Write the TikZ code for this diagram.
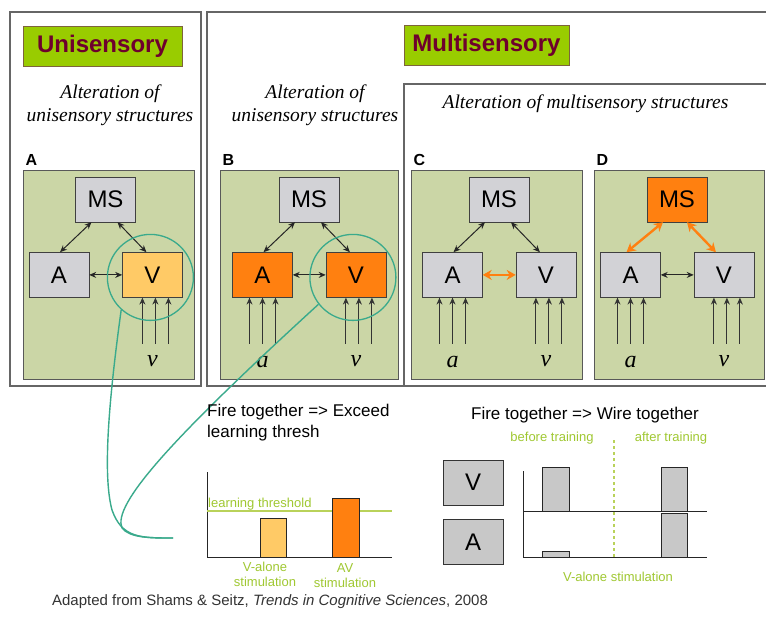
\documentclass[tikz,border=0pt]{standalone}
\usepackage{fontspec}
\setmainfont{Liberation Serif}
\setsansfont{Liberation Sans}
\usetikzlibrary{arrows.meta,calc,positioning}

\definecolor{panelgreen}{RGB}{203,214,166}
\definecolor{unitgrey}{RGB}{210,210,214}
\definecolor{bargrey}{RGB}{200,200,200}
\definecolor{hotorange}{RGB}{255,128,16}
\definecolor{paleorange}{RGB}{255,202,102}
\definecolor{headgreen}{RGB}{153,204,0}
\definecolor{headred}{RGB}{110,0,45}
\definecolor{headedge}{RGB}{125,100,60}
\definecolor{loopteal}{RGB}{58,170,140}
\definecolor{threshgreen}{RGB}{185,210,90}
\definecolor{notegreen}{RGB}{160,200,50}

\tikzset{
  shell/.style={draw=black!60,line width=1.3pt},
  banner/.style={draw=headedge,fill=headgreen,text=headred,line width=1pt,inner sep=0pt,
    minimum height=40pt,font=\sffamily\bfseries\fontsize{24}{24}\selectfont},
  note/.style={align=center,font=\itshape\fontsize{19.5}{23}\selectfont},
  panel/.style={draw=black!65,fill=panelgreen,line width=1pt,minimum height=209pt},
  letter/.style={inner sep=0pt,font=\sffamily\bfseries\fontsize{16}{16}\selectfont},
  unit/.style={draw=black!75,fill=unitgrey,minimum width=60pt,minimum height=45pt,
    inner sep=0pt,font=\sffamily\fontsize{24}{24}\selectfont},
  link/.style={<->,line width=1pt,draw=black!85},
  hotlink/.style={{Stealth[length=9pt,width=10pt]}-{Stealth[length=9pt,width=10pt]},
    line width=2.4pt,draw=hotorange},
  feed/.style={<-,line width=1pt,draw=black!80},
  sig/.style={inner sep=0pt,font=\itshape\fontsize{24}{24}\selectfont},
  loupe/.style={circle,draw=loopteal,line width=1.3pt,minimum size=86pt},
  strand/.style={draw=loopteal,line width=1.4pt},
  headline/.style={inner sep=0pt,font=\sffamily\fontsize{17}{21}\selectfont},
  cue/.style={inner sep=0pt,text=notegreen,align=center,font=\sffamily\fontsize{13}{15}\selectfont},
  chartline/.style={draw=black!85,line width=1pt},
  barbox/.style={draw=black!85,line width=1pt}
}

\begin{document}
\begin{tikzpicture}[x=1pt,y=-1pt,>={Stealth[length=7pt,width=6pt]}]
  \useasboundingbox (0,0) rectangle (766,624);
  \fill[white] (0,0) rectangle (766,624);

  % frames
  \draw[shell] (10,12) rectangle (201,386);
  \draw[shell] (207,12) rectangle (775,386);
  \draw[shell] (404,84) rectangle (775,386);

  \node[banner,minimum width=159pt] (uni) at (102.5,46) {Unisensory};
  \node[banner,minimum width=165pt] (multi) at (486.5,45.5) {Multisensory};
  \node[note] (altA) at (110,105) {Alteration of\\unisensory structures};
  \node[note] (altB) at (315,105) {Alteration of\\unisensory structures};
  \node[note] (altC) at (585.5,104) {Alteration of multisensory structures};

  % the four panels
  \foreach \p/\cx/\w/\mx/\msc/\ac/\vc in {A/108.5/171/105.5/unitgrey/unitgrey/paleorange,
      B/309/178/309/unitgrey/hotorange/hotorange, C/496.5/171/499/unitgrey/unitgrey/unitgrey,
      D/679/170/677/hotorange/unitgrey/unitgrey}{
    \node[panel,minimum width=\w pt] (pane\p) at (\cx,274.5) {};
    \node[letter,above right=4pt and 3pt of pane\p.north west] (tag\p) {\p};
    \node[unit,fill=\msc] (ms\p) at (\mx,199.5) {MS};
    \node[unit,fill=\ac,below=30pt of ms\p,xshift=-46.5pt] (a\p) {A};
    \node[unit,fill=\vc,right=33pt of a\p] (v\p) {V};
    \foreach \dx in {-10,3,16}
      \draw[feed] ([xshift=\dx pt]v\p.south) -- ++(0,46);
    \node[sig,below=58pt of v\p] (sv\p) {v};
  }
  \foreach \p in {B,C,D}{
    \foreach \dx in {-13,0,13}
      \draw[feed] ([xshift=\dx pt]a\p.south) -- ++(0,46);
    \node[sig,below=58pt of a\p] (sa\p) {a};
  }

  \foreach \p in {A,B,C}{
    \draw[link] ([xshift=-14pt]ms\p.south) -- ([xshift=1pt]a\p.north);
    \draw[link] ([xshift=12pt]ms\p.south) -- ([xshift=-6pt]v\p.north);
  }
  \foreach \p in {A,B,D}
    \draw[link] (a\p) -- (v\p);
  \draw[hotlink] (aC) -- (vC);
  \draw[hotlink] ([xshift=-14pt]msD.south) -- ([xshift=-4pt]aD.north);
  \draw[hotlink] ([xshift=10pt]msD.south) -- ([xshift=-8pt]vD.north);

  % zoom circles and their strands
  \node[loupe] (zoomA) at ($(vA)+(-2,2.5)$) {};
  \node[loupe] (zoomB) at ($(vB)+(-3,2.5)$) {};
  \coordinate (tip) at (173,538);
  \draw[strand] (zoomA.228) .. controls (106,420) and (104,480) .. (112,510)
    .. controls (122,538) and (140,538) .. (tip);
  \draw[strand] (zoomB.218) .. controls (170,440) and (112,505) .. (122,528)
    .. controls (130,538) and (150,538) .. (tip);

  % learning threshold chart
  \node[headline,anchor=north west,align=left] (fireL) at (207,404) {Fire together => Exceed\\learning thresh};
  \draw[chartline] (207,472) |- (392,557);
  \draw[threshgreen,line width=1.2pt] (207,511) -- (392,511);
  \node[cue,anchor=base west] (thresh) at (208,507) {learning threshold};
  \draw[barbox,fill=paleorange] (260,518) rectangle (286,557);
  \draw[barbox,fill=hotorange] (332,498) rectangle (359,557);
  \node[cue,anchor=north] (valone) at (265,562) {V-alone\\stimulation};
  \node[cue,anchor=north] (avstim) at (345,563) {AV\\stimulation};

  % wiring chart
  \node[headline] (fireR) at (585,415) {Fire together => Wire together};
  \node[cue] (before) at (552,438) {before training};
  \node[cue] (after) at (671,438) {after training};
  \node[unit,fill=bargrey,draw=black!80] (vR) at (473,482.5) {V};
  \node[unit,fill=bargrey,draw=black!80,below=14pt of vR] (aR) {A};
  \draw[chartline] (523,471) |- (707,557);
  \draw[chartline] (523,511) -- (707,511);
  \draw[threshgreen,line width=1.2pt,dashed] (614,440) -- (614,557);
  \draw[barbox,fill=bargrey] (542,467) rectangle (569,511);
  \draw[barbox,fill=bargrey] (542,551) rectangle (569,557);
  \draw[barbox,fill=bargrey] (661,467) rectangle (687,511);
  \draw[barbox,fill=bargrey] (661,513) rectangle (687,557);
  \node[cue] (vonly) at (618,577) {V-alone stimulation};

  \node[text=black!80,font=\sffamily\fontsize{15}{15}\selectfont] (credit) at (270,602)
    {Adapted from Shams \& Seitz, \textit{Trends in Cognitive Sciences}, 2008};
\end{tikzpicture}
\end{document}
